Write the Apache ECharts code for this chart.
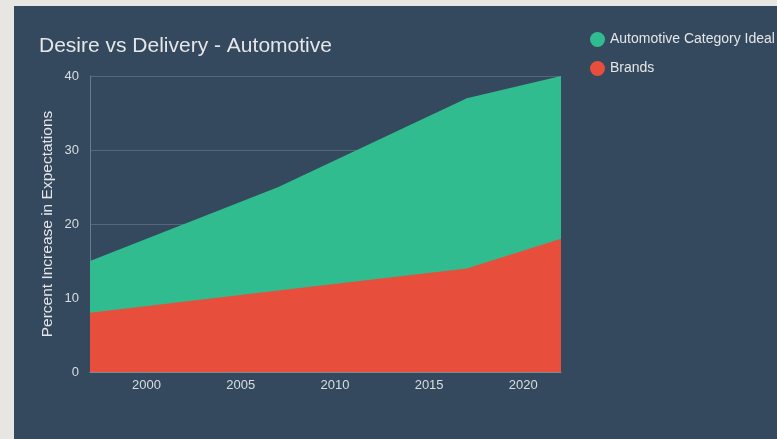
<!DOCTYPE html>
<html>
<head>
<meta charset="utf-8">
<style>
  html, body { margin: 0; padding: 0; width: 777px; height: 439px; background: #e8e6e2; overflow: hidden; }
  #panel { position: absolute; left: 14px; top: 6px; width: 763px; height: 433px; background: #35495e; }
  #chart { position: absolute; left: 0; top: 0; width: 777px; height: 439px; }
</style>
<script src="https://cdn.jsdelivr.net/npm/echarts@6/dist/echarts.min.js"></script>
</head>
<body>
<div id="panel"></div>
<div id="chart"></div>
<script>
// Survey years and expectation levels (percent increase)
const idealYears = [1997, 2007, 2017, 2022];
const idealValues = [15, 25, 37, 40];
const brandYears = [1997, 2007, 2017, 2022];
const brandValues = [8, 11, 14, 18];
const yearTicks = [2000, 2005, 2010, 2015, 2020];
const seriesNames = ['Automotive Category Ideal', 'Brands'];

const pairs = (xs, ys) => xs.map((x, i) => [x, ys[i]]);

const chart = echarts.init(document.getElementById('chart'), null, { renderer: 'canvas' });
const font = '"Liberation Sans", Arial, sans-serif';

chart.setOption({
  backgroundColor: 'transparent',
  animation: false,
  textStyle: { fontFamily: font },
  title: {
    text: 'Desire vs Delivery - Automotive',
    left: 34, top: 31,
    textStyle: { color: '#e4e6e8', fontSize: 21, fontWeight: 'normal', fontFamily: font }
  },
  legend: {
    orient: 'vertical',
    left: 585, top: 27,
    itemGap: 14,
    icon: 'circle',
    itemWidth: 15, itemHeight: 15,
    itemStyle: { borderWidth: 0 },
    textStyle: { color: '#e4e6e8', fontSize: 14, fontFamily: font },
    data: seriesNames
  },
  grid: { left: 90, right: 216, top: 76, bottom: 67 },
  xAxis: {
    type: 'value',
    min: 1997, max: 2022,
    axisLine: { show: true, lineStyle: { color: '#7d8893', width: 1 } },
    axisTick: { show: false },
    splitLine: { show: false },
    axisLabel: {
      customValues: yearTicks,
      formatter: (v) => String(v),
      color: '#d9dde1', fontSize: 13, margin: 7
    }
  },
  yAxis: {
    type: 'value',
    min: 0, max: 40, interval: 10,
    name: 'Percent Increase in Expectations',
    nameLocation: 'middle',
    nameGap: 34,
    nameMoveOverlap: false,
    nameTextStyle: { color: '#e4e6e8', fontSize: 15.5, fontFamily: font },
    axisLine: { show: true, lineStyle: { color: '#6d7b89', width: 1 } },
    axisTick: { show: false },
    splitLine: { show: true, lineStyle: { color: '#55687b', width: 1 } },
    axisLabel: { color: '#d9dde1', fontSize: 13, margin: 11 }
  },
  series: [
    {
      name: seriesNames[0],
      type: 'line',
      data: pairs(idealYears, idealValues),
      symbol: 'none',
      itemStyle: { color: '#31bc8f' },
      lineStyle: { width: 0 },
      areaStyle: { color: '#31bc8f', opacity: 1 },
      z: 2
    },
    {
      name: seriesNames[1],
      type: 'line',
      data: pairs(brandYears, brandValues),
      symbol: 'none',
      itemStyle: { color: '#e84e3c' },
      lineStyle: { width: 0 },
      areaStyle: { color: '#e84e3c', opacity: 1 },
      z: 3
    }
  ]
});
</script>
</body>
</html>
